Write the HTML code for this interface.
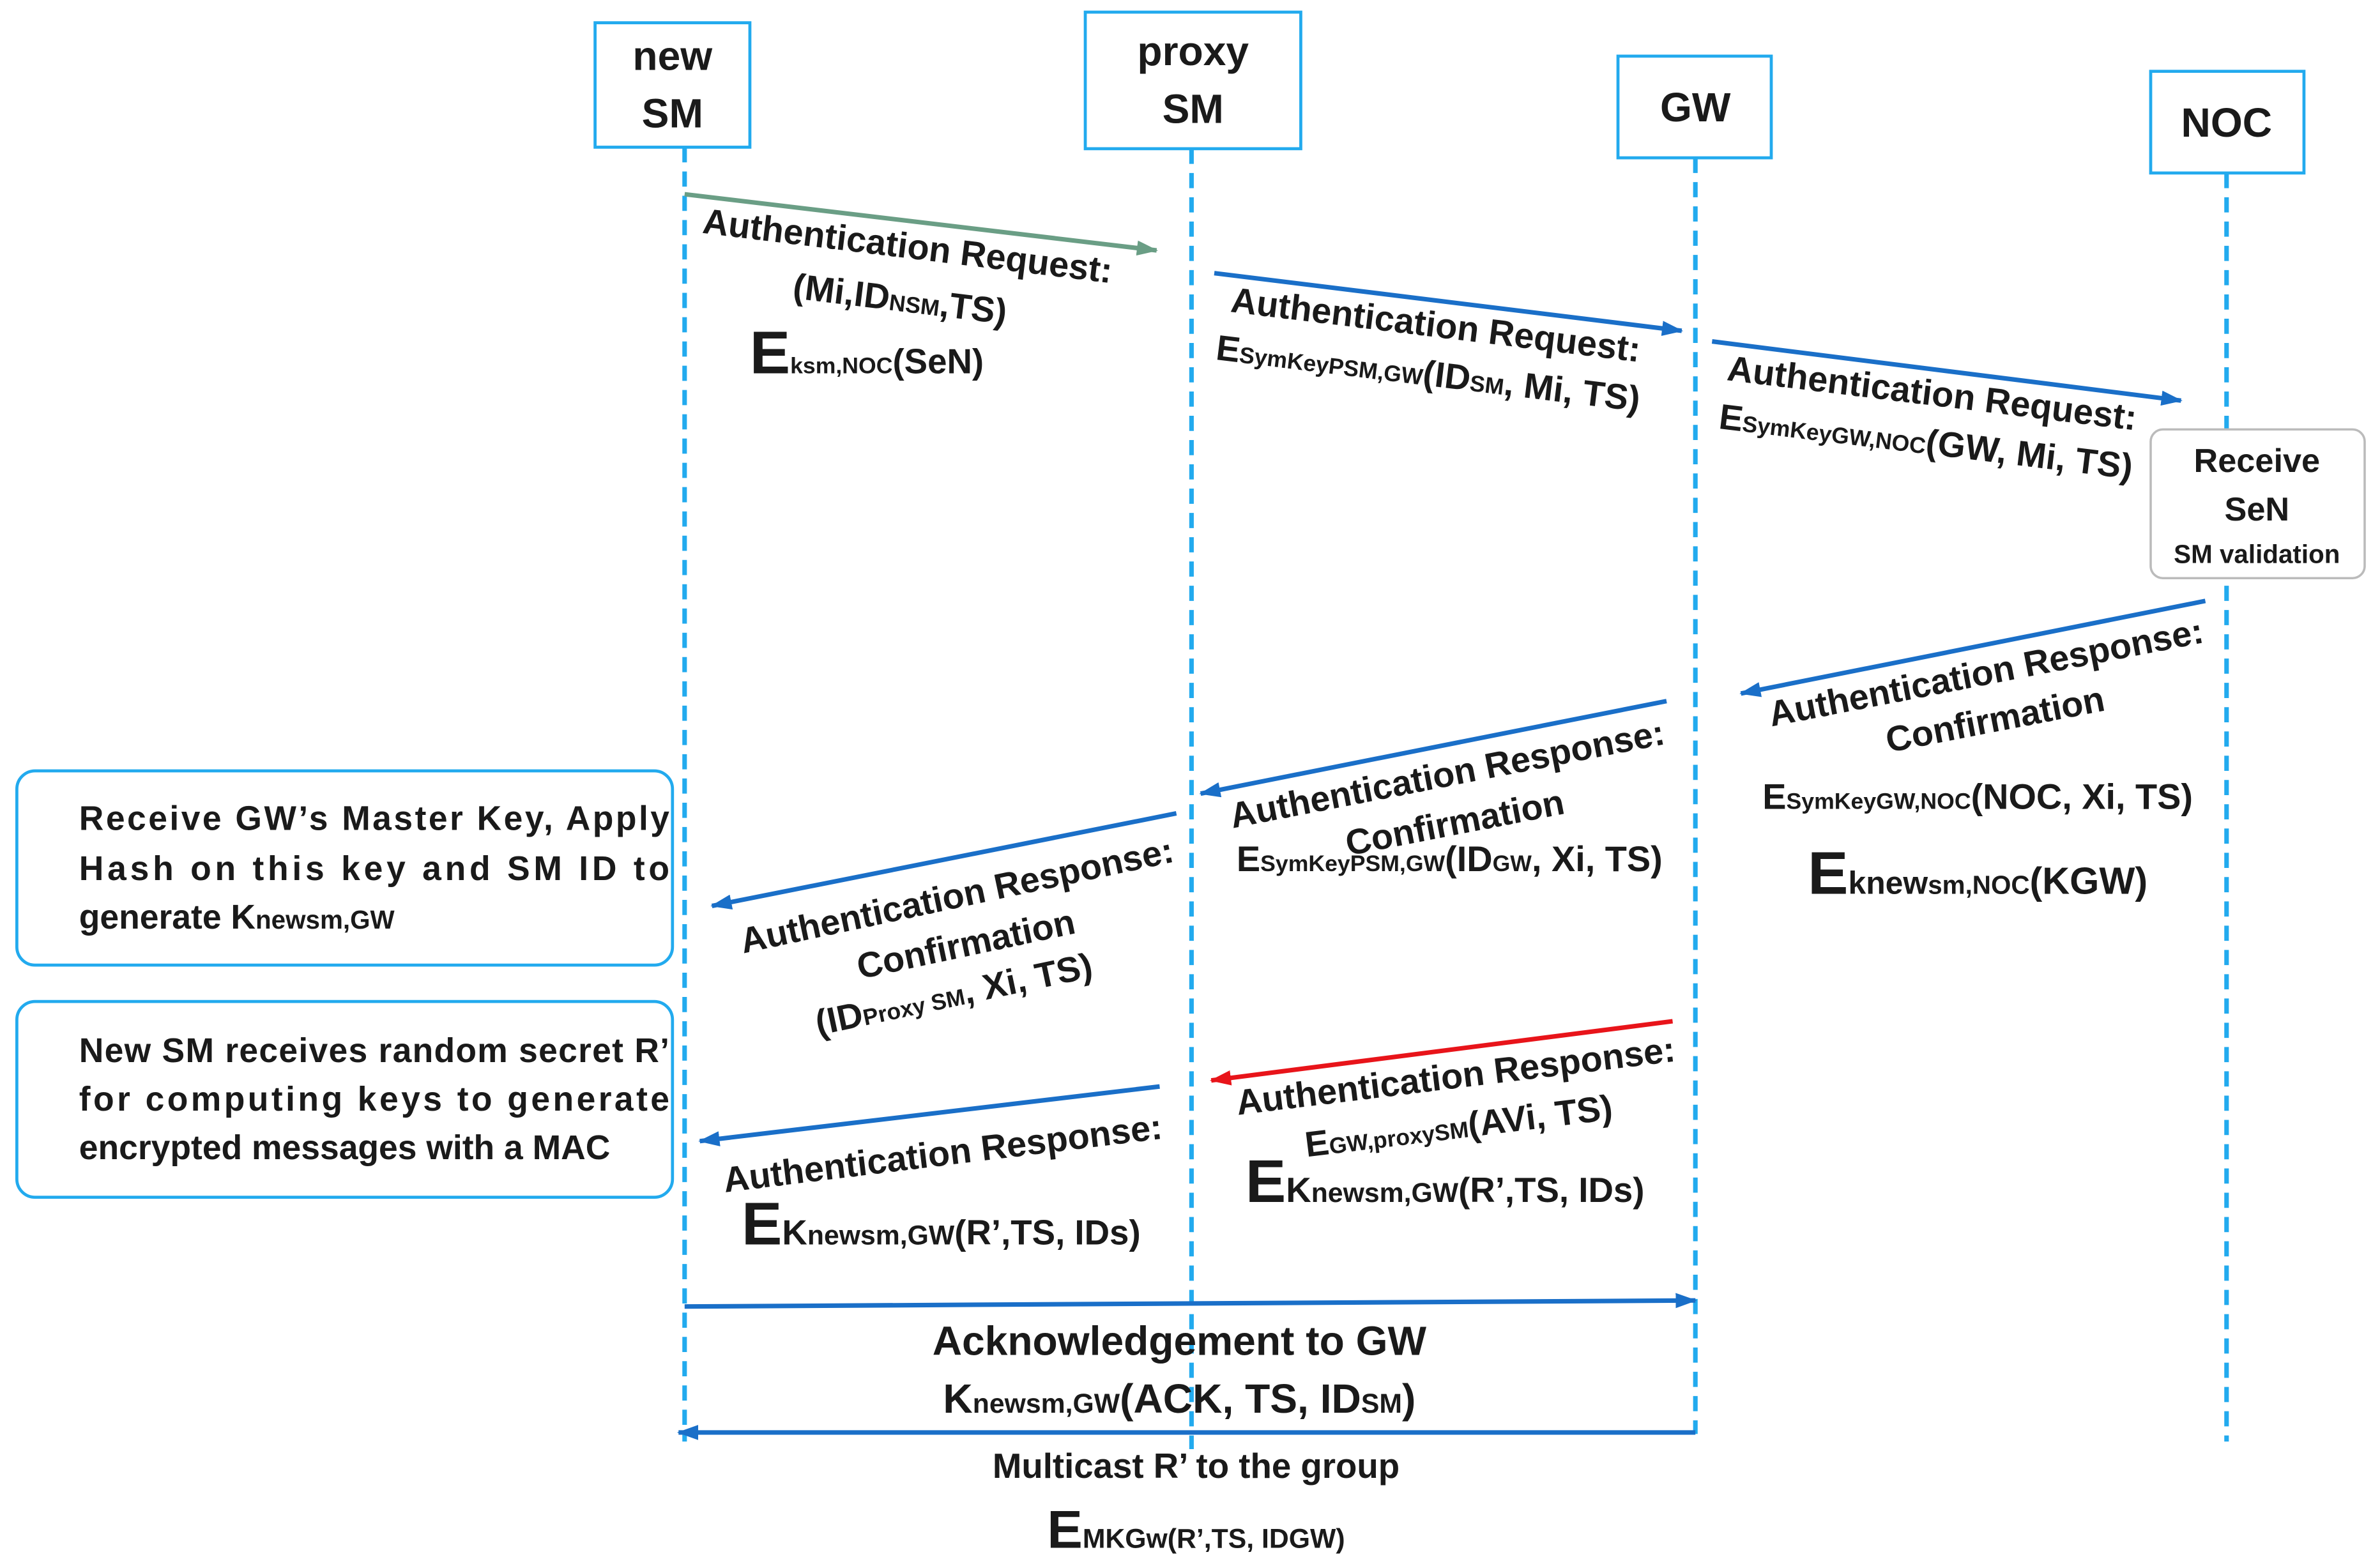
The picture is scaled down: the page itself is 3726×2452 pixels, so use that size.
<!DOCTYPE html>
<html><head><meta charset="utf-8"><style>
html,body{margin:0;padding:0;background:#fff;}
svg{display:block;}
text{font-family:"Liberation Sans","DejaVu Sans",sans-serif;font-weight:bold;fill:#1a1a1a;}
</style></head><body>
<svg width="3726" height="2452" viewBox="0 0 1568 1032" xmlns="http://www.w3.org/2000/svg">
<defs>
<marker id="ab" markerWidth="14" markerHeight="10" refX="13" refY="5" orient="auto" markerUnits="userSpaceOnUse"><path d="M0,0 L14,5 L0,10 z" fill="#1a6fc8"/></marker>
<marker id="ag" markerWidth="14" markerHeight="10" refX="13" refY="5" orient="auto" markerUnits="userSpaceOnUse"><path d="M0,0 L14,5 L0,10 z" fill="#6a9e85"/></marker>
<marker id="ar" markerWidth="14" markerHeight="10" refX="13" refY="5" orient="auto" markerUnits="userSpaceOnUse"><path d="M0,0 L14,5 L0,10 z" fill="#e8141a"/></marker>
</defs>
<g fill="#fff" stroke="#22aaee" stroke-width="2">
<rect x="392" y="15" width="102" height="82"/>
<rect x="715" y="8" width="142" height="90"/>
<rect x="1066" y="37" width="101" height="67"/>
<rect x="1417" y="47" width="101" height="67"/>
</g>
<g font-size="27" text-anchor="middle">
<text x="443" y="46">new</text><text x="443" y="84">SM</text>
<text x="786" y="43">proxy</text><text x="786" y="81">SM</text>
<text x="1117" y="80">GW</text>
<text x="1467" y="90">NOC</text>
</g>
<g stroke="#22aaee" stroke-width="3" stroke-dasharray="10,6">
<line x1="451" y1="97" x2="451" y2="950"/>
<line x1="785" y1="98" x2="785" y2="955"/>
<line x1="1117" y1="104" x2="1117" y2="945"/>
<line x1="1467" y1="114" x2="1467" y2="950"/>
</g>
<line x1="451" y1="128" x2="762" y2="165" stroke="#6a9e85" stroke-width="3" marker-end="url(#ag)"/>
<line x1="800" y1="180" x2="1108" y2="218" stroke="#1a6fc8" stroke-width="3" marker-end="url(#ab)"/>
<line x1="1128" y1="225" x2="1437" y2="264" stroke="#1a6fc8" stroke-width="3" marker-end="url(#ab)"/>
<line x1="1453" y1="396" x2="1147" y2="457" stroke="#1a6fc8" stroke-width="3" marker-end="url(#ab)"/>
<line x1="1098" y1="462" x2="791" y2="523" stroke="#1a6fc8" stroke-width="3" marker-end="url(#ab)"/>
<line x1="775" y1="536" x2="469" y2="597" stroke="#1a6fc8" stroke-width="3" marker-end="url(#ab)"/>
<line x1="1102" y1="673" x2="798" y2="712" stroke="#e8141a" stroke-width="3" marker-end="url(#ar)"/>
<line x1="764" y1="716" x2="461" y2="752" stroke="#1a6fc8" stroke-width="3" marker-end="url(#ab)"/>
<line x1="451" y1="861" x2="1117" y2="857" stroke="#1a6fc8" stroke-width="3" marker-end="url(#ab)"/>
<line x1="1117" y1="944" x2="447" y2="944" stroke="#1a6fc8" stroke-width="3" marker-end="url(#ab)"/>
<rect x="1417" y="283" width="141" height="98" rx="8" fill="#fff" stroke="#bbbbbb" stroke-width="1.5"/>
<g text-anchor="middle">
<text x="1487" y="311" font-size="22">Receive</text>
<text x="1487" y="343" font-size="22">SeN</text>
<text x="1487" y="371" font-size="17">SM validation</text>
</g>
<rect x="11" y="508" width="432" height="128" rx="12" fill="#fff" stroke="#22aaee" stroke-width="2"/>
<g font-size="22.5">
<text x="52" y="547" textLength="389" lengthAdjust="spacing">Receive  GW’s Master Key, Apply</text>
<text x="52" y="580" textLength="389" lengthAdjust="spacing">Hash on this key and SM ID to</text>
<text x="52" y="612">generate K<tspan font-size="17">newsm,GW</tspan></text>
</g>
<rect x="11" y="660" width="432" height="129" rx="12" fill="#fff" stroke="#22aaee" stroke-width="2"/>
<g font-size="22.5">
<text x="52" y="700" textLength="389" lengthAdjust="spacing">New SM receives random secret R’</text>
<text x="52" y="732" textLength="389" lengthAdjust="spacing">for computing keys to generate</text>
<text x="52" y="764">encrypted messages with a MAC</text>
</g>
<g text-anchor="middle" font-size="23.5">
<text transform="translate(597,170) rotate(7)">Authentication Request:</text>
<text transform="translate(592,205) rotate(7)">(Mi,ID<tspan font-size="15">NSM</tspan>,TS)</text>
<text x="571" y="246" font-size="23"><tspan font-size="40">E</tspan><tspan font-size="15">ksm,NOC</tspan>(SeN)</text>

<text transform="translate(945,222) rotate(7)">Authentication Request:</text>
<text transform="translate(940,254) rotate(7)">E<tspan font-size="15">SymKeyPSM,GW</tspan>(ID<tspan font-size="15">SM</tspan>, Mi, TS)</text>

<text transform="translate(1272,267) rotate(7)">Authentication Request:</text>
<text transform="translate(1268,299) rotate(7)">E<tspan font-size="15">SymKeyGW,NOC</tspan>(GW, Mi, TS)</text>

<text transform="translate(1310,451) rotate(-11)">Authentication Response:</text>
<text transform="translate(1316,482) rotate(-11)">Confirmation</text>
<text x="1303" y="533">E<tspan font-size="15">SymKeyGW,NOC</tspan>(NOC, Xi, TS)</text>
<text x="1303" y="589" font-size="25"><tspan font-size="40">E</tspan><tspan font-size="21">knew</tspan><tspan font-size="17">sm,NOC</tspan>(KGW)</text>

<text transform="translate(955,518) rotate(-11)">Authentication Response:</text>
<text transform="translate(960,550) rotate(-11)">Confirmation</text>
<text x="955" y="574">E<tspan font-size="15">SymKeyPSM,GW</tspan>(ID<tspan font-size="15">GW</tspan>, Xi, TS)</text>

<text transform="translate(632,598) rotate(-12)">Authentication Response:</text>
<text transform="translate(638,630) rotate(-12)">Confirmation</text>
<text transform="translate(630,663) rotate(-12)">(ID<tspan font-size="15">Proxy SM</tspan>, Xi, TS)</text>

<text transform="translate(960,717) rotate(-7)">Authentication Response:</text>
<text transform="translate(962,750) rotate(-7)">E<tspan font-size="15">GW,proxySM</tspan>(AVi, TS)</text>
<text x="952" y="792" font-size="23"><tspan font-size="40">E</tspan>K<tspan font-size="18">newsm,GW</tspan>(R’,TS, IDs)</text>

<text transform="translate(622,768) rotate(-7)">Authentication Response:</text>
<text x="620" y="820" font-size="23"><tspan font-size="40">E</tspan>K<tspan font-size="18">newsm,GW</tspan>(R’,TS, IDs)</text>

<text x="777" y="893" font-size="27">Acknowledgement to GW</text>
<text x="777" y="931" font-size="27">K<tspan font-size="18">newsm,GW</tspan>(ACK, TS, ID<tspan font-size="18">SM</tspan>)</text>
<text x="788" y="974" font-size="23">Multicast R’ to the group</text>
<text x="788" y="1020" font-size="20"><tspan font-size="35">E</tspan><tspan font-size="18">MKGw(R’,TS, IDGW)</tspan></text>
</g>
</svg>
</body></html>
